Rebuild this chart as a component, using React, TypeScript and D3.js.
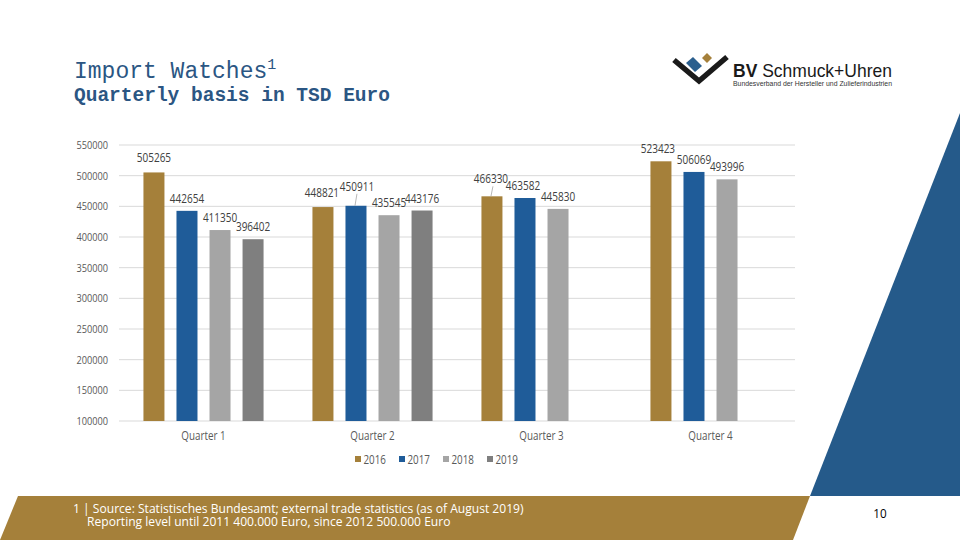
import * as d3 from "d3";
import type { ReactNode } from "react";

const quarters = ["Quarter 1", "Quarter 2", "Quarter 3", "Quarter 4"];
const years = ["2016", "2017", "2018", "2019"];

// values per year, one per quarter (null = not available yet)
const values2016 = [505265, 448821, 466330, 523423];
const values2017 = [442654, 450911, 463582, 506069];
const values2018 = [411350, 435545, 445830, 493996];
const values2019: (number | null)[] = [396402, 443176, null, null];

const yTicks = [100000, 150000, 200000, 250000, 300000, 350000, 400000, 450000, 500000, 550000];

const colors = ["#A5803A", "#1F5C99", "#A5A5A5", "#7F7F7F"];

// hand-placed label nudges, like the moved labels in the source chart
const labelNudges: Record<string, [number, number, boolean]> = {
  "0-0": [0, -2, false],
  "1-0": [-1, -2, false],
  "1-1": [1, -7, true],
  "2-0": [-1, -5, true],
  "2-1": [-2, 0, false],
  "3-0": [-3, 0, false],
};

const chartFont = "'Open Sans', 'Noto Sans', sans-serif";

// Calibri-ish look: squeeze a wide sans horizontally
function Txt({
  x,
  y,
  size,
  fill,
  anchor = "start",
  squeeze = 0.84,
  children,
}: {
  x: number;
  y: number;
  size: number;
  fill: string;
  anchor?: "start" | "middle" | "end";
  squeeze?: number;
  children: ReactNode;
}) {
  return (
    <text
      transform={`translate(${x},${y}) scale(${squeeze},1)`}
      textAnchor={anchor}
      fontFamily={chartFont}
      fontSize={size}
      fill={fill}
    >
      {children}
    </text>
  );
}

export default function App() {
  const width = 960;
  const height = 540;
  const plot = { left: 119, right: 795, top: 145, bottom: 421 };

  const series = [values2016, values2017, values2018, values2019];

  const x0 = d3.scaleBand().domain(quarters).range([plot.left, plot.right]).padding(0);
  const x1 = d3
    .scaleBand()
    .domain(years)
    .range([0, x0.bandwidth()])
    .paddingInner(0.364)
    .paddingOuter(0.74);
  const y = d3.scaleLinear().domain([100000, 550000]).range([plot.bottom, plot.top]);

  const bars: { q: number; s: number; v: number }[] = [];
  series.forEach((vals, s) =>
    vals.forEach((v, q) => {
      if (v != null) bars.push({ q, s, v });
    })
  );

  return (
    <svg
      width={width}
      height={height}
      style={{ position: "absolute", left: 0, top: 0, background: "#fff" }}
    >
      {/* title */}
      <text x={74} y={78} fontFamily="'Liberation Mono', 'Courier New', monospace" fontSize={23} fill="#2B5683">
        Import Watches
        <tspan fontSize={15} dy={-9}>1</tspan>
      </text>
      <text x={74} y={101} fontFamily="'Liberation Mono', 'Courier New', monospace" fontSize={19.5} fontWeight="bold" fill="#2B5683">
        Quarterly basis in TSD Euro
      </text>

      {/* logo */}
      <g>
        <polyline points="674,60 699,81 727,57" fill="none" stroke="#1a1a1a" strokeWidth={5.5} strokeLinejoin="miter" />
        <polygon points="686,63 693,57 702,66 695,72" fill="#2B5F8E" />
        <polygon points="702,58 707,53 712,58 707,63" fill="#A5803A" />
        <text
          x={733}
          y={77}
          fontFamily="'Liberation Sans', Arial, sans-serif"
          fontSize={19}
          fill="#1a1a1a"
          textLength={159}
          lengthAdjust="spacingAndGlyphs"
        >
          <tspan fontWeight="bold">BV</tspan> Schmuck+Uhren
        </text>
        <text
          x={733}
          y={86}
          fontFamily="'Liberation Sans', Arial, sans-serif"
          fontSize={6.5}
          fill="#333"
          textLength={159}
          lengthAdjust="spacingAndGlyphs"
        >
          Bundesverband der Hersteller und Zulieferindustrien
        </text>
      </g>

      {/* right blue shape */}
      <polygon points="960,113 960,496 810,496" fill="#255A8A" />
      {/* gold footer band */}
      <polygon points="18,496 810,496 793,540 0,540" fill="#A5803A" />

      {/* grid + y axis */}
      {yTicks.map((t) => (
        <g key={t}>
          <line x1={plot.left} x2={plot.right} y1={y(t)} y2={y(t)} stroke="#D9D9D9" strokeWidth={1} />
          <Txt x={108} y={y(t) + 4} anchor="end" size={11.5} fill="#595959" squeeze={0.8}>
            {t}
          </Txt>
        </g>
      ))}

      {/* bars */}
      {bars.map((b) => (
        <rect
          key={`${b.q}-${b.s}`}
          x={(x0(quarters[b.q]) ?? 0) + (x1(years[b.s]) ?? 0)}
          y={y(b.v)}
          width={x1.bandwidth()}
          height={plot.bottom - y(b.v)}
          fill={colors[b.s]}
        />
      ))}

      {/* data labels */}
      {bars.map((b) => {
        const cx = (x0(quarters[b.q]) ?? 0) + (x1(years[b.s]) ?? 0) + x1.bandwidth() / 2;
        const top = y(b.v);
        const [dx, dy, leader] = labelNudges[`${b.q}-${b.s}`] ?? [0, 0, false];
        const ly = top - 8 + dy;
        return (
          <g key={`l-${b.q}-${b.s}`}>
            {leader && (
              <line x1={cx + 1} x2={cx - 1} y1={ly + 3} y2={top} stroke="#A6A6A6" strokeWidth={0.8} />
            )}
            <Txt x={cx + dx} y={ly} anchor="middle" size={12.5} fill="#404040" squeeze={0.8}>
              {b.v}
            </Txt>
          </g>
        );
      })}

      {/* category labels */}
      {quarters.map((q) => (
        <Txt key={q} x={(x0(q) ?? 0) + x0.bandwidth() / 2} y={440} anchor="middle" size={12} fill="#595959" squeeze={0.82}>
          {q}
        </Txt>
      ))}

      {/* legend */}
      {years.map((yr, i) => (
        <g key={yr}>
          <rect x={355 + i * 44} y={456} width={6} height={6} fill={colors[i]} />
          <Txt x={363.5 + i * 44} y={463.5} size={12} fill="#595959" squeeze={0.82}>
            {yr}
          </Txt>
        </g>
      ))}

      {/* footnote */}
      <Txt x={73} y={512.5} size={13} fill="#fff" squeeze={0.93}>
        1 | Source: Statistisches Bundesamt; external trade statistics (as of August 2019)
      </Txt>
      <Txt x={87} y={526} size={13} fill="#fff" squeeze={0.93}>
        Reporting level until 2011 400.000 Euro, since 2012 500.000 Euro
      </Txt>

      {/* page number */}
      <Txt x={880} y={518} anchor="middle" size={13} fill="#000" squeeze={0.9}>
        10
      </Txt>
    </svg>
  );
}
